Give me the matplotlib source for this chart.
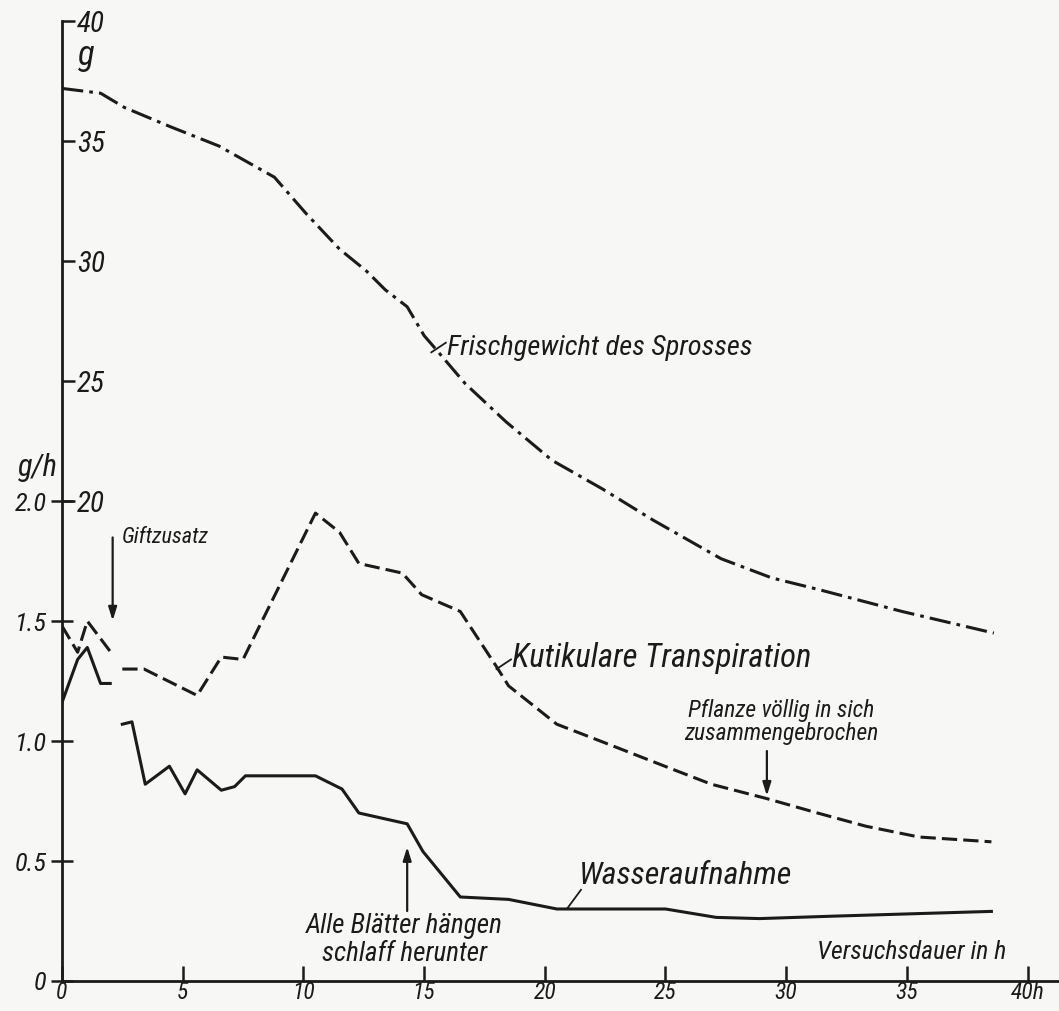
import numpy as np
import matplotlib
matplotlib.use("Agg")
import matplotlib.pyplot as plt
from matplotlib import font_manager

# Frischgewicht des Sprosses (g), time in h
fresh_t = [0, 1.6, 2.6, 4.5, 6.5, 8.8, 10.1, 11.5, 12.6, 13.4, 14.3, 15.0, 15.6,
           16.7, 18.4, 20.3, 22.4, 24.5, 27.3, 29.4, 31.4, 34.8, 38.6]
fresh_g = [37.2, 37.0, 36.4, 35.6, 34.8, 33.5, 32.0, 30.5, 29.6, 28.8, 28.1, 26.9, 26.2,
           24.9, 23.3, 21.7, 20.5, 19.2, 17.6, 16.8, 16.3, 15.4, 14.5]

# Kutikulare Transpiration (g/h) - gap at Giftzusatz
kut_t = [0, 0.65, 1.05, 2.1, np.nan, 2.5, 3.4, 5.6, 6.6, 7.5, 10.5, 11.5, 12.3, 14.1,
         14.9, 16.5, 18.0, 18.5, 20.5, 22.3, 25.1, 26.9, 29.2, 31.3, 33.3, 35.5, 38.5]
kut_v = [1.48, 1.37, 1.50, 1.36, np.nan, 1.30, 1.30, 1.19, 1.35, 1.34, 1.95, 1.87, 1.74, 1.70,
         1.61, 1.54, 1.31, 1.23, 1.07, 1.00, 0.89, 0.82, 0.76, 0.70, 0.645, 0.60, 0.58]

# Wasseraufnahme (g/h)
water_t = [0, 0.65, 1.05, 1.6, 2.0, np.nan, 2.5, 2.9, 3.45, 4.45, 5.1, 5.6, 6.6, 7.15, 7.6,
           10.5, 11.2, 11.6, 12.3, 14.3, 14.95, 16.5, 18.5, 20.5, 25.0, 27.1, 28.9, 31.9, 38.5]
water_v = [1.16, 1.34, 1.39, 1.24, 1.24, np.nan, 1.07, 1.08, 0.82, 0.895, 0.78, 0.88, 0.795, 0.81, 0.855,
           0.855, 0.82, 0.80, 0.70, 0.655, 0.54, 0.35, 0.34, 0.30, 0.30, 0.265, 0.26, 0.27, 0.29]

x_ticks = [0, 5, 10, 15, 20, 25, 30, 35, 40]
x_labels = ["0", "5", "10", "15", "20", "25", "30", "35", "40h"]
rate_ticks = [0, 0.5, 1.0, 1.5, 2.0]
rate_labels = ["0", "0.5", "1.0", "1.5", "2.0"]
weight_ticks = [20, 25, 30, 35, 40]

INK = "#1b1b1b"
PAPER = "#f7f7f5"

# pick a narrow italic face if one is installed
installed = {f.name for f in font_manager.fontManager.ttflist}
FONT = [f for f in ["DejaVu Sans Condensed", "Liberation Sans Narrow", "Roboto Condensed"]
        if f in installed] + ["DejaVu Sans"]
narrow = FONT[0] != "DejaVu Sans"
plt.rcParams["font.family"] = FONT
plt.rcParams["font.style"] = "italic"
k = 1.0 if narrow else 0.8  # shrink text if only the wide face exists

fig = plt.figure(figsize=(10.59, 10.11), dpi=100, facecolor=PAPER)
ax = fig.add_axes([0.0585, 0.0297, 0.9415, 0.9493])
ax.set_facecolor(PAPER)
ax.set_xlim(0, 41.3)
ax.set_ylim(0, 4.0)

lw = 2.2
ax.plot(fresh_t, np.array(fresh_g) / 10, color=INK, lw=lw, dashes=(7, 2, 1.2, 2))
ax.plot(kut_t, kut_v, color=INK, lw=lw, dashes=(5, 2))
ax.plot(water_t, water_v, color=INK, lw=lw)

for side in ["top", "right"]:
    ax.spines[side].set_visible(False)
for side in ["left", "bottom"]:
    ax.spines[side].set_linewidth(2)
    ax.spines[side].set_color(INK)

ax.set_xticks(x_ticks)
ax.set_xticklabels(x_labels)
ax.tick_params(axis="x", direction="in", length=11, width=1.8, color=INK,
               labelsize=17 * k, pad=0, labelcolor=INK)
ax.set_yticks(rate_ticks)
ax.set_yticklabels(rate_labels)
ax.tick_params(axis="y", direction="inout", length=16, width=1.8, color=INK,
               labelsize=19 * k, pad=3, labelcolor=INK)

# gram scale drawn on the same spine, labels to the right
ax2 = ax.twinx()
ax2.set_ylim(0, 40)
ax2.spines["right"].set_position(("axes", 0))
for side in ["top", "left", "bottom", "right"]:
    ax2.spines[side].set_visible(False)
ax2.set_yticks(weight_ticks)
ax2.tick_params(axis="y", direction="out", length=9, width=1.8, color=INK,
                labelsize=21 * k, pad=2, labelcolor=INK)

ax.text(-1.0, 2.14, "g/h", fontsize=22 * k, color=INK, ha="center", va="center", clip_on=False)
ax.text(1.0, 3.86, "g", fontsize=25 * k, color=INK, ha="center", va="center")

# curve labels with small leaders
ax.plot([15.3, 15.9], [2.62, 2.66], color=INK, lw=1.3)
ax.text(15.95, 2.64, "Frischgewicht des Sprosses", fontsize=20.5 * k, color=INK, va="center")
ax.plot([18.0, 18.6], [1.30, 1.34], color=INK, lw=1.3)
ax.text(18.65, 1.345, "Kutikulare Transpiration", fontsize=23.5 * k, color=INK, va="center")
ax.plot([20.95, 21.5], [0.305, 0.38], color=INK, lw=1.3)
ax.text(21.4, 0.44, "Wasseraufnahme", fontsize=23 * k, color=INK, va="center")

# event annotations
arrow = dict(arrowstyle="-|>,head_length=0.8,head_width=0.25", color=INK, lw=1.6)
ax.annotate("", xy=(2.1, 1.49), xytext=(2.1, 1.86), arrowprops=arrow)
ax.text(2.5, 1.85, "Giftzusatz", fontsize=16 * k, color=INK, va="center")

ax.annotate("", xy=(14.3, 0.57), xytext=(14.3, 0.28), arrowprops=arrow)
ax.text(14.2, 0.17, "Alle Blätter hängen\nschlaff herunter", fontsize=19.5 * k, color=INK,
        ha="center", va="center", linespacing=1.1)

ax.annotate("", xy=(29.2, 0.76), xytext=(29.2, 0.97), arrowprops=arrow)
ax.text(29.8, 1.08, "Pflanze völlig in sich\nzusammengebrochen", fontsize=17 * k, color=INK,
        ha="center", va="center", linespacing=1.0)

ax.text(35.2, 0.12, "Versuchsdauer in h", fontsize=18.5 * k, color=INK, ha="center", va="center")

fig.savefig("out.png", dpi=100, facecolor=PAPER)
